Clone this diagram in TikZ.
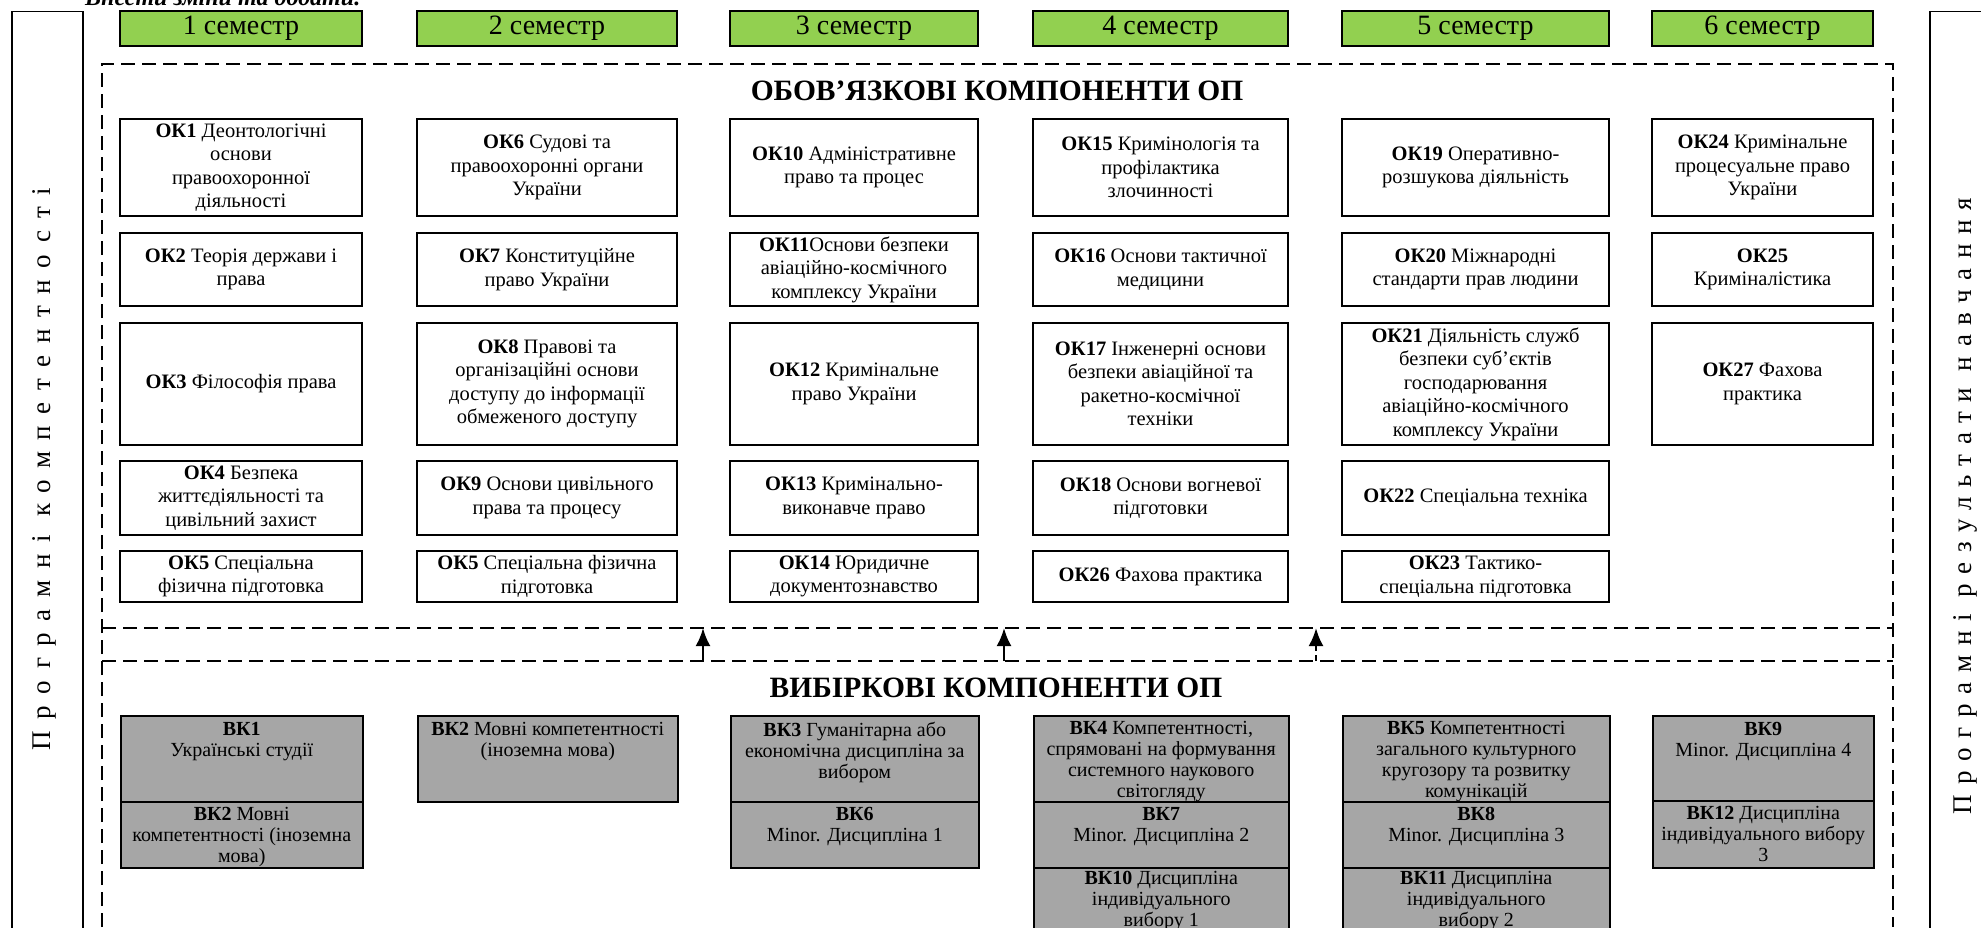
\documentclass[tikz,border=0pt]{standalone}
\usepackage{fontspec}
\setmainfont{Liberation Serif}
\usepackage{tikz}
\usetikzlibrary{arrows.meta,positioning}

\definecolor{semgreen}{RGB}{146,208,80}
\definecolor{vkgray}{RGB}{166,166,166}

\newcommand\okfont{\fontsize{20.5}{23.5}\selectfont}
\newcommand\vkfont{\fontsize{20}{21}\selectfont}
\newcommand\semfont{\fontsize{28}{30}\selectfont}
\newcommand\titlefont{\fontsize{29.5}{32}\selectfont\bfseries}

\tikzset{
  sembox/.style={draw=black, line width=1.6pt, fill=semgreen, minimum height=35pt, inner sep=0pt, font=\semfont},
  okbox/.style={draw=black, line width=1.6pt, fill=white, align=center, inner sep=1pt, font=\okfont},
  vkbox/.style={draw=black, line width=1.5pt, fill=vkgray, inner sep=0pt, anchor=north west},
  vktext/.style={align=center, inner sep=0pt, font=\vkfont},
  frame/.style={black, line width=1.6pt, dash pattern=on 14pt off 7pt},
  sidebox/.style={draw=black, line width=1.5pt, fill=white, inner sep=0pt, anchor=north west},
  sidetext/.style={rotate=90, inner sep=0pt, font=\fontsize{27}{30}\selectfont\addfontfeature{LetterSpace=#1}},
  up/.style={-{Latex[length=18pt,width=15pt]}, line width=2.6pt},
}

\begin{document}
\begin{tikzpicture}[x=1pt,y=-1pt]
\useasboundingbox (0,0) rectangle (1981,928);
\clip (0,0) rectangle (1981,928);

% heading cut at the top edge
\node[anchor=base west, inner sep=0pt, font=\fontsize{24}{26}\selectfont\bfseries\itshape] (note) at (85,6) {Внести зміни та додати.};

% side panels
\node[sidebox, minimum width=71pt, minimum height=940pt] (pk) at (11,11) {};
\node[sidetext=43] (pktext) at (44,469) {Програмні компетентності};
\node[sidebox, minimum width=90pt, minimum height=940pt] (pr) at (1929,11) {};
\node[sidetext=36] (prtext) at (1965,506) {Програмні результати навчання};

% semesters
\node[sembox, minimum width=242pt] (s1) at (241,28.5) {1 семестр};
\node[sembox, minimum width=260pt] (s2) at (547,28.5) {2 семестр};
\node[sembox, minimum width=248pt] (s3) at (854,28.5) {3 семестр};
\node[sembox, minimum width=255pt] (s4) at (1160.5,28.5) {4 семестр};
\node[sembox, minimum width=267pt] (s5) at (1475.5,28.5) {5 семестр};
\node[sembox, minimum width=221pt] (s6) at (1762.5,28.5) {6 семестр};

% dashed frames
\coordinate (ftl) at (102,64);
\coordinate (ftr) at (1893,64);
\coordinate (fbl) at (102,927);
\coordinate (fbr) at (1893,927);
\coordinate (fml) at (102,628);
\coordinate (fmr) at (1893,628);
\coordinate (fnl) at (102,661);
\coordinate (fnr) at (1893,661);
\draw[frame] (fbl) -- (ftl) -- (ftr) -- (fbr);
\draw[frame] (fml) -- (fmr);
\draw[frame] (fnl) -- (fnr);

\node[font=\titlefont, inner sep=0pt] (obtitle) at (997,91) {ОБОВ’ЯЗКОВІ КОМПОНЕНТИ ОП};
\node[font=\titlefont, inner sep=0pt] (vbtitle) at (996,688) {ВИБІРКОВІ КОМПОНЕНТИ ОП};

% mandatory, semester 1
\node[okbox, minimum width=242pt, minimum height=97pt] (ok1) at (241,167.5) {\textbf{ОК1} Деонтологічні\\основи\\правоохоронної\\діяльності};
\node[okbox, minimum width=242pt, minimum height=73pt] (ok2) at (241,269.5) {\textbf{ОК2} Теорія держави і\\права};
\node[okbox, minimum width=242pt, minimum height=122pt] (ok3) at (241,384) {\textbf{ОК3} Філософія права};
\node[okbox, minimum width=242pt, minimum height=74pt] (ok4) at (241,498) {\textbf{ОК4} Безпека\\життєдіяльності та\\цивільний захист};
\node[okbox, minimum width=242pt, minimum height=51pt] (ok5a) at (241,576.5) {\textbf{ОК5} Спеціальна\\фізична підготовка};
% semester 2
\node[okbox, minimum width=260pt, minimum height=97pt] (ok6) at (547,167.5) {\textbf{ОК6} Судові та\\правоохоронні органи\\України};
\node[okbox, minimum width=260pt, minimum height=73pt] (ok7) at (547,269.5) {\textbf{ОК7} Конституційне\\право України};
\node[okbox, minimum width=260pt, minimum height=122pt] (ok8) at (547,384) {\textbf{ОК8} Правові та\\організаційні основи\\доступу до інформації\\обмеженого доступу};
\node[okbox, minimum width=260pt, minimum height=74pt] (ok9) at (547,498) {\textbf{ОК9} Основи цивільного\\права та процесу};
\node[okbox, minimum width=260pt, minimum height=51pt] (ok5b) at (547,576.5) {\textbf{ОК5} Спеціальна фізична\\підготовка};
% semester 3
\node[okbox, minimum width=248pt, minimum height=97pt] (ok10) at (854,167.5) {\textbf{ОК10} Адміністративне\\право та процес};
\node[okbox, minimum width=248pt, minimum height=73pt] (ok11) at (854,269.5) {\textbf{ОК11}Основи безпеки\\авіаційно-космічного\\комплексу України};
\node[okbox, minimum width=248pt, minimum height=122pt] (ok12) at (854,384) {\textbf{ОК12} Кримінальне\\право України};
\node[okbox, minimum width=248pt, minimum height=74pt] (ok13) at (854,498) {\textbf{ОК13} Кримінально-\\виконавче право};
\node[okbox, minimum width=248pt, minimum height=51pt] (ok14) at (854,576.5) {\textbf{ОК14} Юридичне\\документознавство};
% semester 4
\node[okbox, minimum width=255pt, minimum height=97pt] (ok15) at (1160.5,167.5) {\textbf{ОК15} Кримінологія та\\профілактика\\злочинності};
\node[okbox, minimum width=255pt, minimum height=73pt] (ok16) at (1160.5,269.5) {\textbf{ОК16} Основи тактичної\\медицини};
\node[okbox, minimum width=255pt, minimum height=122pt] (ok17) at (1160.5,384) {\textbf{ОК17} Інженерні основи\\безпеки авіаційної та\\ракетно-космічної\\техніки};
\node[okbox, minimum width=255pt, minimum height=74pt] (ok18) at (1160.5,498) {\textbf{ОК18} Основи вогневої\\підготовки};
\node[okbox, minimum width=255pt, minimum height=51pt] (ok26) at (1160.5,576.5) {\textbf{ОК26} Фахова практика};
% semester 5
\node[okbox, minimum width=267pt, minimum height=97pt] (ok19) at (1475.5,167.5) {\textbf{ОК19} Оперативно-\\розшукова діяльність};
\node[okbox, minimum width=267pt, minimum height=73pt] (ok20) at (1475.5,269.5) {\textbf{ОК20} Міжнародні\\стандарти прав людини};
\node[okbox, minimum width=267pt, minimum height=122pt] (ok21) at (1475.5,384) {\textbf{ОК21} Діяльність служб\\безпеки суб’єктів\\господарювання\\авіаційно-космічного\\комплексу України};
\node[okbox, minimum width=267pt, minimum height=74pt] (ok22) at (1475.5,498) {\textbf{ОК22} Спеціальна техніка};
\node[okbox, minimum width=267pt, minimum height=51pt] (ok23) at (1475.5,576.5) {\textbf{ОК23} Тактико-\\спеціальна підготовка};
% semester 6
\node[okbox, minimum width=221pt, minimum height=97pt] (ok24) at (1762.5,167.5) {\textbf{ОК24} Кримінальне\\процесуальне право\\України};
\node[okbox, minimum width=221pt, minimum height=73pt] (ok25) at (1762.5,269.5) {\textbf{ОК25}\\Криміналістика};
\node[okbox, minimum width=221pt, minimum height=122pt] (ok27) at (1762.5,384) {\textbf{ОК27} Фахова\\практика};

% arrows between the frames
\coordinate (a1s) at (703,661);
\coordinate (a1e) at (703,628);
\coordinate (a2s) at (1004,661);
\coordinate (a2e) at (1004,628);
\coordinate (a3s) at (1316,661);
\coordinate (a3e) at (1316,628);
\draw[up] (a1s) -- (a1e);
\draw[up] (a2s) -- (a2e);
\draw[up, dash pattern=on 6pt off 4pt] (a3s) -- (a3e);

% elective blocks
\node[vkbox, minimum width=242pt, minimum height=86pt] (vk1) at (120,715) {};
\node[vktext, below=7pt of vk1.north] {\textbf{ВК1}\\Українські студії};
\node[vkbox, minimum width=242pt, minimum height=66pt] (vk2a) at (120,801) {};
\node[vktext, below=6pt of vk2a.north] {\textbf{ВК2} Мовні\\компетентності (іноземна\\мова)};

\node[vkbox, minimum width=260pt, minimum height=86pt] (vk2b) at (417,715) {};
\node[vktext, below=7pt of vk2b.north] {\textbf{ВК2} Мовні компетентності\\(іноземна мова)};

\node[vkbox, minimum width=248pt, minimum height=86pt] (vk3) at (730,715) {};
\node[vktext, below=7pt of vk3.north] {\textbf{ВК3} Гуманітарна або\\економічна дисципліна за\\вибором};
\node[vkbox, minimum width=248pt, minimum height=66pt] (vk6) at (730,801) {};
\node[vktext, below=6pt of vk6.north] {\textbf{ВК6}\\Minor. Дисципліна 1};

\node[vkbox, minimum width=255pt, minimum height=86pt] (vk4) at (1033,715) {};
\node[vktext, below=6pt of vk4.north] {\textbf{ВК4} Компетентності,\\спрямовані на формування\\системного наукового\\світогляду};
\node[vkbox, minimum width=255pt, minimum height=66pt] (vk7) at (1033,801) {};
\node[vktext, below=6pt of vk7.north] {\textbf{ВК7}\\Minor. Дисципліна 2};
\node[vkbox, minimum width=255pt, minimum height=70pt] (vk10) at (1033,867) {};
\node[vktext, below=4pt of vk10.north] {\textbf{ВК10} Дисципліна\\індивідуального\\вибору 1};

\node[vkbox, minimum width=267pt, minimum height=86pt] (vk5) at (1342,715) {};
\node[vktext, below=6pt of vk5.north] {\textbf{ВК5} Компетентності\\загального культурного\\кругозору та розвитку\\комунікацій};
\node[vkbox, minimum width=267pt, minimum height=66pt] (vk8) at (1342,801) {};
\node[vktext, below=6pt of vk8.north] {\textbf{ВК8}\\Minor. Дисципліна 3};
\node[vkbox, minimum width=267pt, minimum height=70pt] (vk11) at (1342,867) {};
\node[vktext, below=4pt of vk11.north] {\textbf{ВК11} Дисципліна\\індивідуального\\вибору 2};

\node[vkbox, minimum width=221pt, minimum height=85pt] (vk9) at (1652,715) {};
\node[vktext, below=7pt of vk9.north] {\textbf{ВК9}\\Minor. Дисципліна 4};
\node[vkbox, minimum width=221pt, minimum height=67pt] (vk12) at (1652,800) {};
\node[vktext, below=6pt of vk12.north] {\textbf{ВК12} Дисципліна\\індивідуального вибору\\3};
\end{tikzpicture}
\end{document}
